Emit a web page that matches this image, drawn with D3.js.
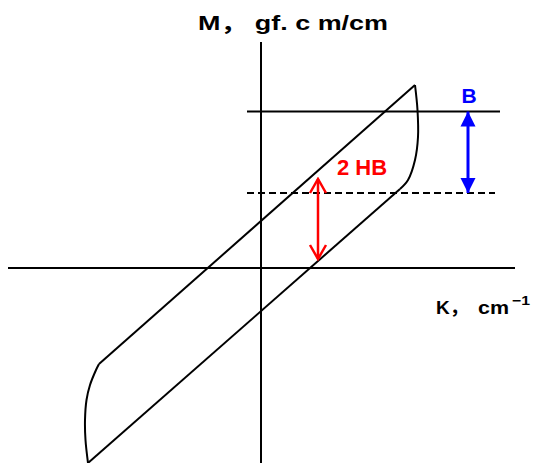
<!DOCTYPE html>
<html>
<head>
<meta charset="utf-8">
<script src="https://cdn.jsdelivr.net/npm/d3@7"></script>
<style>
  body { margin: 0; background: #fff; }
</style>
</head>
<body>
<div id="chart"></div>
<script>
// hysteresis loop, values in chart units (K along x, M along y)
const upperBranch = [[-1.62, -0.96], [1.54, 1.83]];
const rightTip = [[1.54, 1.83], [1.565, 1.58], [1.57, 1.31], [1.54, 1.08], [1.47, 0.88], [1.39, 0.79]];
const lowerBranch = [[1.39, 0.79], [-1.73, -1.95]];
const leftTip = [[-1.73, -1.95], [-1.755, -1.72], [-1.76, -1.52], [-1.745, -1.32], [-1.71, -1.17], [-1.65, -1.02], [-1.62, -0.96]];

// reference levels
const topLevel = 1.565;
const dashLevel = 0.75;
const levelStart = -0.14;
const topLevelEnd = 2.39;
const dashLevelEnd = 2.34;

// arrows
const hbArrow = { k: 0.57, from: 0.09, to: 0.89 };
const bArrow = { k: 2.07, from: topLevel, to: dashLevel };

const width = 538, height = 463;

const svg = d3.select("#chart")
    .append("svg")
    .attr("width", width)
    .attr("height", height);

const x = d3.scaleLinear().domain([-2.53, 2.54]).range([8, 515]);
const y = d3.scaleLinear().domain([-1.95, 2.26]).range([463, 42]);

const defs = svg.append("defs");

defs.append("marker")
    .attr("id", "openHead")
    .attr("markerUnits", "userSpaceOnUse")
    .attr("viewBox", "-16 -10 18 20")
    .attr("markerWidth", 18)
    .attr("markerHeight", 20)
    .attr("refX", 0)
    .attr("refY", 0)
    .attr("orient", "auto-start-reverse")
    .append("path")
    .attr("d", "M-14,-8 L0,0 L-14,8")
    .attr("fill", "none")
    .attr("stroke", "#ff0000")
    .attr("stroke-width", 2.5);

defs.append("marker")
    .attr("id", "solidHead")
    .attr("markerUnits", "userSpaceOnUse")
    .attr("viewBox", "-16 -9 17 18")
    .attr("markerWidth", 17)
    .attr("markerHeight", 18)
    .attr("refX", 0)
    .attr("refY", 0)
    .attr("orient", "auto-start-reverse")
    .append("path")
    .attr("d", "M-15,-7.5 L0,0 L-15,7.5 Z")
    .attr("fill", "#0000ff");

// axes
svg.append("line")
    .attr("x1", x.range()[0]).attr("x2", x.range()[1])
    .attr("y1", y(0)).attr("y2", y(0))
    .attr("stroke", "#000").attr("stroke-width", 2);

svg.append("line")
    .attr("x1", x(0)).attr("x2", x(0))
    .attr("y1", y.range()[0]).attr("y2", y.range()[1])
    .attr("stroke", "#000").attr("stroke-width", 2);

// levels
svg.append("line")
    .attr("x1", x(levelStart)).attr("x2", x(topLevelEnd))
    .attr("y1", y(topLevel)).attr("y2", y(topLevel))
    .attr("stroke", "#000").attr("stroke-width", 2);

svg.append("line")
    .attr("x1", x(levelStart)).attr("x2", x(dashLevelEnd))
    .attr("y1", y(dashLevel)).attr("y2", y(dashLevel))
    .attr("stroke", "#000").attr("stroke-width", 2)
    .attr("stroke-dasharray", "7,4");

// loop
const straight = d3.line().x(d => x(d[0])).y(d => y(d[1]));
const curved = d3.line().x(d => x(d[0])).y(d => y(d[1])).curve(d3.curveCatmullRom);

[upperBranch, lowerBranch].forEach(b => {
    svg.append("path")
        .attr("d", straight(b))
        .attr("fill", "none")
        .attr("stroke", "#000")
        .attr("stroke-width", 2);
});

[rightTip, leftTip].forEach(t => {
    svg.append("path")
        .attr("d", curved(t))
        .attr("fill", "none")
        .attr("stroke", "#000")
        .attr("stroke-width", 2);
});

// 2HB arrow
svg.append("line")
    .attr("x1", x(hbArrow.k)).attr("x2", x(hbArrow.k))
    .attr("y1", y(hbArrow.from)).attr("y2", y(hbArrow.to))
    .attr("stroke", "#ff0000").attr("stroke-width", 2.5)
    .attr("marker-start", "url(#openHead)")
    .attr("marker-end", "url(#openHead)");

// B arrow
svg.append("line")
    .attr("x1", x(bArrow.k)).attr("x2", x(bArrow.k))
    .attr("y1", y(bArrow.from)).attr("y2", y(bArrow.to))
    .attr("stroke", "#0000ff").attr("stroke-width", 3)
    .attr("marker-start", "url(#solidHead)")
    .attr("marker-end", "url(#solidHead)");

// texts
const font = "'Liberation Sans', 'Noto Sans CJK JP', sans-serif";

svg.append("text")
    .attr("x", 198).attr("y", 30)
    .attr("textLength", 190)
    .attr("lengthAdjust", "spacingAndGlyphs")
    .style("font-family", font)
    .style("font-size", "21px")
    .style("font-weight", "bold")
    .text("M， gf. c m/cm");

svg.append("text")
    .attr("x", 436).attr("y", 314)
    .style("font-family", font)
    .style("font-size", "19px")
    .style("font-weight", "bold")
    .text("K，");

svg.append("text")
    .attr("x", 478).attr("y", 314)
    .attr("textLength", 31)
    .attr("lengthAdjust", "spacingAndGlyphs")
    .style("font-family", font)
    .style("font-size", "18px")
    .style("font-weight", "bold")
    .text("cm");

svg.append("text")
    .attr("x", 512).attr("y", 305)
    .attr("textLength", 18)
    .attr("lengthAdjust", "spacingAndGlyphs")
    .style("font-family", font)
    .style("font-size", "13px")
    .style("font-weight", "bold")
    .text("−1");

svg.append("text")
    .attr("x", 337).attr("y", 175)
    .style("font-family", font)
    .style("font-size", "22px")
    .style("font-weight", "bold")
    .attr("fill", "#ff0000")
    .text("2 HB");

svg.append("text")
    .attr("x", 469).attr("y", 103)
    .attr("text-anchor", "middle")
    .style("font-family", font)
    .style("font-size", "21px")
    .style("font-weight", "bold")
    .attr("fill", "#0000ff")
    .text("B");
</script>
</body>
</html>
